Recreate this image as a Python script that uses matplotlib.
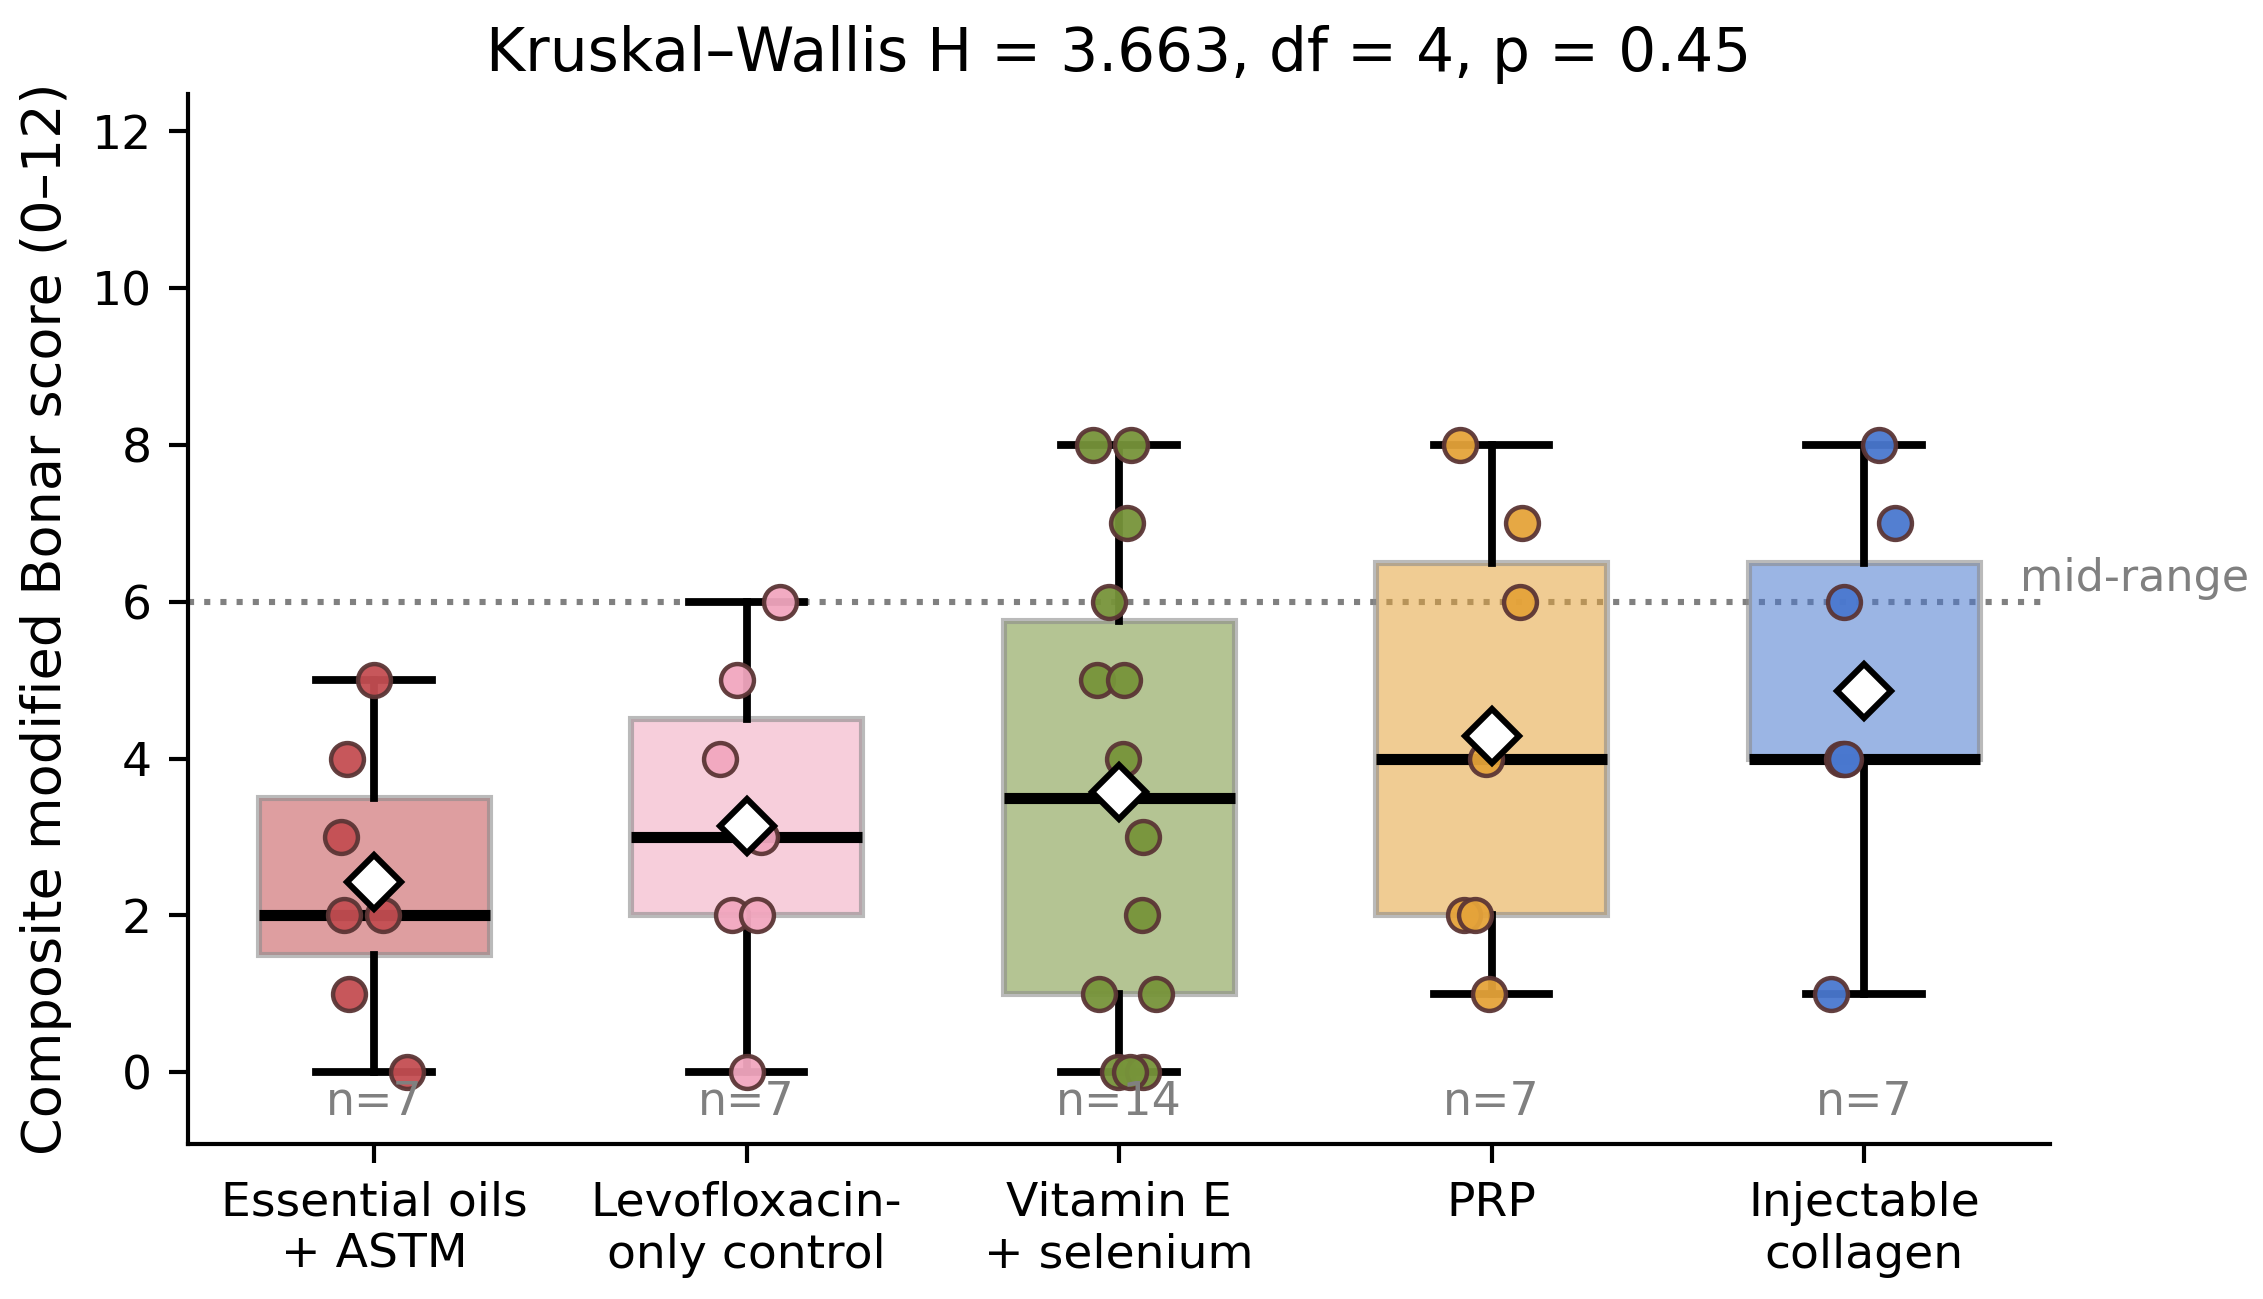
import numpy as np
import matplotlib
matplotlib.use('Agg')
import matplotlib.pyplot as plt

# groups and scores
groups = ['Essential oils\n+ ASTM', 'Levofloxacin-\nonly control', 'Vitamin E\n+ selenium',
          'PRP', 'Injectable\ncollagen']
colors = ['#C44E52', '#F2A7BF', '#77943A', '#E5A33A', '#4A78CF']

scores_oils = [5, 4, 3, 2, 2, 1, 0]
scores_levo = [6, 5, 4, 3, 2, 2, 0]
scores_vite = [8, 8, 7, 6, 5, 5, 4, 3, 2, 1, 1, 0, 0, 0]
scores_prp = [8, 7, 6, 4, 2, 2, 1]
scores_coll = [8, 7, 6, 4, 4, 4, 1]

# horizontal jitter of each point (as drawn)
jit_oils = [0.0, -0.073, -0.09, -0.08, 0.024, -0.067, 0.089]
jit_levo = [0.09, -0.025, -0.07, 0.04, -0.04, 0.027, 0.0]
jit_vite = [-0.071, 0.033, 0.02, -0.027, -0.059, 0.013, 0.011, 0.063, 0.061, -0.054, 0.1, -0.003, 0.065, 0.03]
jit_prp = [-0.085, 0.082, 0.076, -0.015, -0.074, -0.044, -0.007]
jit_coll = [0.039, 0.082, -0.054, -0.06, -0.055, -0.05, -0.09]

data = [scores_oils, scores_levo, scores_vite, scores_prp, scores_coll]
jitter = [jit_oils, jit_levo, jit_vite, jit_prp, jit_coll]
H, df, p = 3.663, 4, 0.45

fig, ax = plt.subplots(figsize=(11.315, 6.495), dpi=200)
pos = np.arange(len(groups))

bp = ax.boxplot(data, positions=pos, widths=0.62, patch_artist=True, showmeans=True,
                meanprops=dict(marker='D', markerfacecolor='white', markeredgecolor='black',
                               markersize=13.5, markeredgewidth=2.2),
                medianprops=dict(color='black', lw=4),
                whiskerprops=dict(color='black', lw=2.8),
                capprops=dict(color='black', lw=2.8),
                showfliers=False)
for patch, c in zip(bp['boxes'], colors):
    patch.set_facecolor(matplotlib.colors.to_rgba(c, 0.55))
    patch.set_edgecolor((0.55, 0.55, 0.55, 0.6))
    patch.set_linewidth(2.2)
    patch.set_zorder(1)
for l in bp['whiskers'] + bp['caps']:
    l.set_zorder(2)
for l in bp['medians']:
    l.set_zorder(2.5)
for l in bp['means']:
    l.set_zorder(5)

for i in range(len(groups)):
    y = np.array(data[i])
    x = pos[i] + np.array(jitter[i])
    ax.scatter(x, y, s=140, color=colors[i], edgecolor='#5B3535', linewidth=1.6,
               alpha=0.95, zorder=3)
    ax.text(pos[i], -0.38, 'n=%i' % len(y), ha='center', va='center',
            fontsize=16.5, color='gray', zorder=6)

ax.axhline(6, color='gray', ls=':', lw=2.2, zorder=0.5)
ax.text(4.42, 6.02, 'mid-range', color='gray', fontsize=16, ha='left', va='bottom',
        clip_on=False)

ax.set_xlim(-0.5, 4.5)
ax.set_ylim(-0.92, 12.48)
ax.set_yticks(range(0, 13, 2))
ax.set_xticks(pos)
ax.set_xticklabels(groups, fontsize=17)
ax.tick_params(axis='y', labelsize=17)
ax.tick_params(width=1.5, length=7, pad=6)
ax.set_ylabel('Composite modified Bonar score (0–12)', fontsize=19.5, labelpad=7)
ax.set_title('Kruskal–Wallis H = %.3f, df = %i, p = %.2f' % (H, df, p), fontsize=21.5, pad=8)
for s in ['top', 'right']:
    ax.spines[s].set_visible(False)
for s in ['left', 'bottom']:
    ax.spines[s].set_linewidth(1.5)

fig.subplots_adjust(left=0.083, right=0.906, top=0.928, bottom=0.119)
fig.savefig('out.png', dpi=200)
